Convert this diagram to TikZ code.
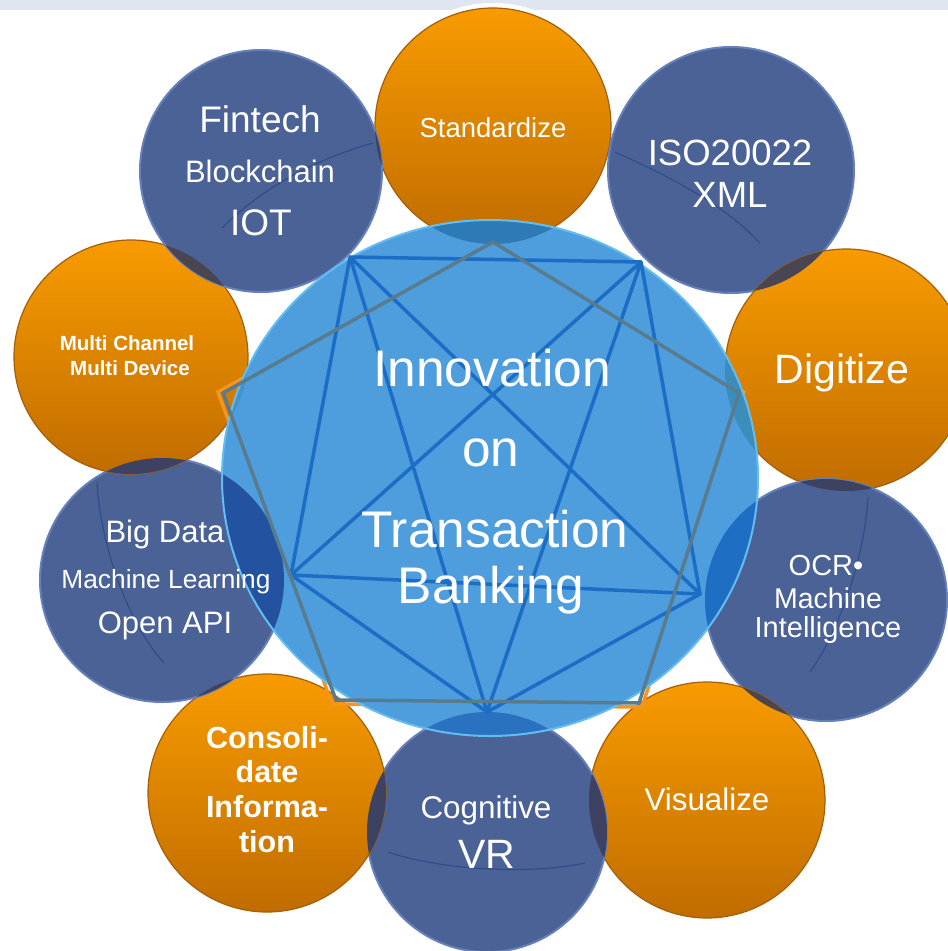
\documentclass[tikz,border=0pt]{standalone}
\usepackage{fontspec}
\setmainfont{Liberation Sans}
\usetikzlibrary{shapes.geometric}
\definecolor{orTop}{HTML}{F89B00}
\definecolor{orBot}{HTML}{C06C00}
\definecolor{orEdge}{HTML}{A45F08}
\definecolor{satBlue}{HTML}{4B6297}
\definecolor{satRim}{HTML}{6681B9}
\definecolor{bigBlue}{HTML}{4E9DDC}
\definecolor{bigRim}{HTML}{62BDF2}
\definecolor{starBlue}{HTML}{1B6DC6}
\definecolor{pentGray}{HTML}{587C8E}
\definecolor{pentOr}{HTML}{F7941D}
\definecolor{arcBlue}{HTML}{2C4C8C}
\definecolor{bandCol}{HTML}{DFE6F2}
\definecolor{ovA}{HTML}{3D4263}
\definecolor{ovB}{HTML}{4A4552}
\definecolor{ovStd}{HTML}{2E7AB4}
\definecolor{ovDig}{HTML}{3B8EBC}
\definecolor{ovMch}{HTML}{4494CC}
\definecolor{ovBdt}{HTML}{2352A0}
\definecolor{ovOcr}{HTML}{1E6FC4}
\definecolor{ovCog}{HTML}{2A72C0}
\newcommand\myfs[1]{\fontsize{#1}{#1}\selectfont}
\newcommand\myovl[5]{\begin{scope}\clip (#1) circle[radius=#2pt];\fill[#5] (#3) circle[radius=#4pt];\end{scope}}
\newcommand\mycore[3]{\begin{scope}\clip (core.center) ellipse [x radius=268pt, y radius=258pt];\fill[#3] (#1) circle[radius=#2pt];\end{scope}}
\begin{document}
\begin{tikzpicture}[x=1pt,y=-1pt,
  orb/.style={circle, inner sep=0pt, top color=orTop, bottom color=orBot, draw=orEdge, line width=1.2pt},
  bsat/.style={circle, inner sep=0pt, fill=satBlue, draw=satRim, line width=2pt},
  lbl/.style={text=white, anchor=base, inner sep=0pt},
  deco/.style={draw=arcBlue, line width=1.1pt},
  starline/.style={draw=starBlue, line width=3.5pt, line join=round, line cap=round},
  pentline/.style={draw=pentGray, line width=3.5pt, line join=miter}]
\useasboundingbox (0,0) rectangle (948,951);
\fill[white] (0,0) rectangle (948,951);
\fill[bandCol] (0,0) rectangle (948,10);
\begin{scope}\clip (0,0) rectangle (948,10); \fill[white] (493,126) circle[radius=123pt];\end{scope}

% satellites
\node[orb, minimum size=236pt] (std) at (493,126) {};
\node[bsat, minimum size=246pt] (iso) at (731,170) {};
\node[orb, minimum size=242pt] (dig) at (846,370) {};
\node[bsat, minimum size=242pt] (ocr) at (826,600) {};
\node[orb, minimum size=236pt] (vis) at (707,800) {};
\node[bsat, minimum size=240pt] (cog) at (487,832) {};
\node[orb, minimum size=238pt] (con) at (267,793) {};
\node[bsat, minimum size=244pt] (bdt) at (162,580) {};
\node[orb, minimum size=234pt] (mch) at (131,357) {};
\node[bsat, minimum size=242pt] (fin) at (261,171) {};

% satellite overlaps
\myovl{std.center}{118}{fin.center}{121}{ovA}
\myovl{std.center}{118}{iso.center}{123}{ovA}
\myovl{iso.center}{123}{dig.center}{121}{ovB}
\myovl{dig.center}{121}{ocr.center}{121}{ovA}
\myovl{ocr.center}{121}{vis.center}{118}{ovB}
\myovl{vis.center}{118}{cog.center}{120}{ovA}
\myovl{cog.center}{120}{con.center}{119}{ovA}
\myovl{con.center}{119}{bdt.center}{122}{ovA}
\myovl{bdt.center}{122}{mch.center}{117}{ovA}
\myovl{mch.center}{117}{fin.center}{121}{ovB}

% decorative arcs
\coordinate (fa1) at (222,228); \coordinate (fa2) at (373,143);
\draw[deco] (fa1) .. controls (265,185) and (320,158) .. (fa2);
\coordinate (ia1) at (615,152); \coordinate (ia2) at (760,243);
\draw[deco] (ia1) .. controls (655,170) and (720,200) .. (ia2);
\coordinate (oa1) at (868,497); \coordinate (oa2) at (810,672);
\draw[deco] (oa1) .. controls (865,555) and (840,630) .. (oa2);
\coordinate (ca1) at (388,852); \coordinate (ca2) at (585,863);
\draw[deco] (ca1) .. controls (440,870) and (530,875) .. (ca2);
\coordinate (ba1) at (97,482); \coordinate (ba2) at (164,663);
\draw[deco] (ba1) .. controls (100,540) and (125,620) .. (ba2);

% orange pentagon (under core)
\coordinate (o1) at (493,237); \coordinate (o2) at (744,392); \coordinate (o3) at (642,707);
\coordinate (o4) at (332,704); \coordinate (o5) at (218,392);
\draw[pentOr, line width=3.5pt] (o1)--(o2)--(o3)--(o4)--(o5)--cycle;

% core
\node[ellipse, inner sep=0pt, minimum width=536pt, minimum height=516pt, fill=bigBlue] (core) at (490,478) {};
\mycore{std.center}{118}{ovStd}
\mycore{dig.center}{121}{ovDig}
\mycore{mch.center}{117}{ovMch}
\mycore{bdt.center}{122}{ovBdt}
\mycore{ocr.center}{121}{ovOcr}
\mycore{cog.center}{120}{ovCog}
\draw[bigRim, line width=2pt] (core.center) ellipse [x radius=268pt, y radius=258pt];

% star (pentagon with diagonals)
\coordinate (sa) at (350,257); \coordinate (sb) at (641,262); \coordinate (sc) at (291,575);
\coordinate (sd) at (700,594); \coordinate (se) at (487,712);
\draw[starline] (sa)--(sb)--(sd)--(se)--(sc)--cycle;
\draw[starline] (sa)--(sd) (sa)--(se) (sb)--(sc) (sb)--(se) (sc)--(sd);

% gray pentagon
\coordinate (g1) at (493,242); \coordinate (g2) at (739,393); \coordinate (g3) at (639,703);
\coordinate (g4) at (336,700); \coordinate (g5) at (223,393);
\draw[pentline] (g1)--(g2)--(g3)--(g4)--(g5)--cycle;

% labels
\node[lbl, font=\myfs{27.5}] (t-std) at (493,137) {Standardize};
\node[lbl, font=\myfs{37}] (t-fin1) at (260,132) {Fintech};
\node[lbl, font=\myfs{31}] (t-fin2) at (260,182) {Blockchain};
\node[lbl, font=\myfs{37}] (t-fin3) at (261,235) {IOT};
\node[lbl, font=\myfs{36.5}] (t-iso1) at (730,165) {ISO20022};
\node[lbl, font=\myfs{36.5}] (t-iso2) at (730,207) {XML};
\node[lbl, font=\bfseries\myfs{20.5}] (t-mch1) at (127,350) {Multi Channel};
\node[lbl, font=\bfseries\myfs{20.5}] (t-mch2) at (130,375) {Multi Device};
\node[lbl, font=\myfs{41}] (t-dig) at (842,383) {Digitize};
\node[lbl, font=\myfs{31}] (t-bdt1) at (165,542) {Big Data};
\node[lbl, font=\myfs{26.3}] (t-bdt2) at (166,588) {Machine Learning};
\node[lbl, font=\myfs{31}] (t-bdt3) at (165,633) {Open API};
\node[lbl, font=\myfs{29}] (t-ocr1) at (826,575) {OCR•};
\node[lbl, font=\myfs{28.5}] (t-ocr2) at (828,608) {Machine};
\node[lbl, font=\myfs{29}] (t-ocr3) at (828,637) {Intelligence};
\node[lbl, font=\bfseries\myfs{30.5}] (t-con1) at (267,748) {Consoli-};
\node[lbl, font=\bfseries\myfs{30.5}] (t-con2) at (267,782) {date};
\node[lbl, font=\bfseries\myfs{30.5}] (t-con3) at (267,817) {Informa-};
\node[lbl, font=\bfseries\myfs{30.5}] (t-con4) at (267,852) {tion};
\node[lbl, font=\myfs{31.4}] (t-cog1) at (486,818) {Cognitive};
\node[lbl, font=\myfs{41}] (t-cog2) at (487,868) {VR};
\node[lbl, font=\myfs{31.3}] (t-vis) at (707,810) {Visualize};
\node[lbl, font=\myfs{51.5}] (t-c1) at (492,386) {Innovation};
\node[lbl, font=\myfs{51.5}] (t-c2) at (491,466) {on};
\node[lbl, font=\myfs{51.5}] (t-c3) at (495,547) {Transaction};
\node[lbl, font=\myfs{51.5}] (t-c4) at (491,603) {Banking};
\end{tikzpicture}
\end{document}
